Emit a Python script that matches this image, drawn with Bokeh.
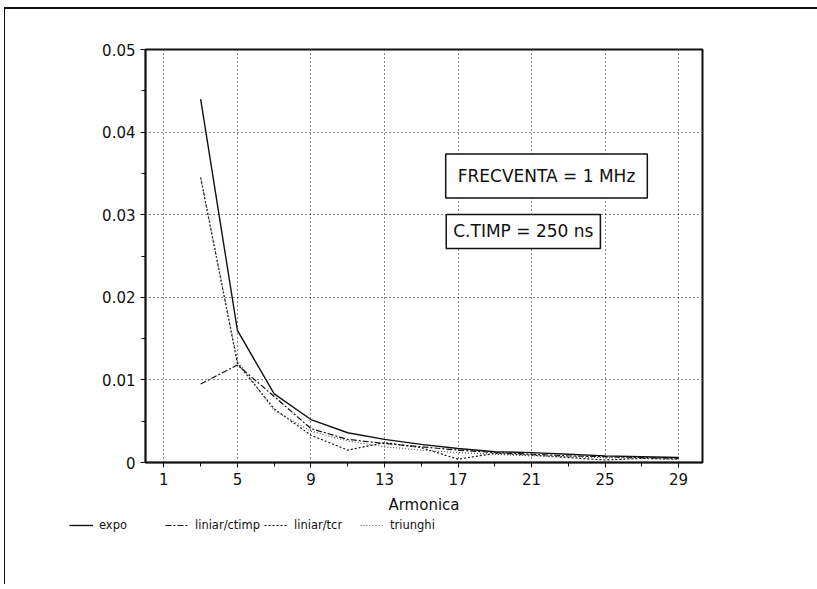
from bokeh.plotting import figure
from bokeh.layouts import column
from bokeh.models import Range1d, FixedTicker, Legend, LegendItem, Label
from bokeh.embed import file_html
from bokeh.resources import INLINE

# harmonics (odd)
armonica = [3, 5, 7, 9, 11, 13, 15, 17, 19, 21, 23, 25, 27, 29]
expo = [0.0440, 0.0160, 0.0083, 0.0052, 0.0036, 0.0028, 0.0022, 0.0017, 0.0013, 0.0012, 0.0010, 0.0008, 0.0007, 0.0006]
liniar_ctimp = [0.0095, 0.0118, 0.0080, 0.0041, 0.0028, 0.0023, 0.0019, 0.0015, 0.0012, 0.0010, 0.0008, 0.0007, 0.0006, 0.0005]
liniar_tcr = [0.0345, 0.0120, 0.0065, 0.0033, 0.0015, 0.0024, 0.0018, 0.0004, 0.0011, 0.0009, 0.0006, 0.0003, 0.0005, 0.0004]
triunghi = [0.0345, 0.0123, 0.0063, 0.0038, 0.0026, 0.0019, 0.0015, 0.0012, 0.0010, 0.0008, 0.0007, 0.0006, 0.0005, 0.0004]

series_names = ["expo", "liniar/ctimp", "liniar/tcr", "triunghi"]
series_values = [expo, liniar_ctimp, liniar_tcr, triunghi]

x_ticks = [1, 5, 9, 13, 17, 21, 25, 29]
x_minor = [3, 7, 11, 15, 19, 23, 27]
y_ticks = [0, 0.01, 0.02, 0.03, 0.04, 0.05]
y_labels = ["0", "0.01", "0.02", "0.03", "0.04", "0.05"]
y_minor = [0.005, 0.015, 0.025, 0.035, 0.045]

FONT = "DejaVu Sans"
styles = [dict(line_color="#111", line_width=1.4),
          dict(line_color="#111", line_width=1.2, line_dash="6 2 2 2"),
          dict(line_color="#111", line_width=1.2, line_dash="2 2"),
          dict(line_color="#555", line_width=1.2, line_dash="1 2")]

p = figure(width=812, height=508, x_range=Range1d(0, 30.3), y_range=Range1d(0, 0.05),
           output_backend="svg", toolbar_location=None,
           min_border_left=140, min_border_right=115, min_border_top=40, min_border_bottom=55)
p.frame_align = False

p.outline_line_color = "#111"
p.outline_line_width = 2

p.xaxis.ticker = FixedTicker(ticks=x_ticks, minor_ticks=x_minor)
p.yaxis.ticker = FixedTicker(ticks=y_ticks, minor_ticks=y_minor)
p.yaxis.major_label_overrides = dict(zip(y_ticks, y_labels))
p.xaxis.axis_label = "Armonica"

for ax in (p.xaxis, p.yaxis):
    ax.axis_line_color = "#111"
    ax.axis_line_width = 1.5
    ax.major_tick_line_color = "#111"
    ax.minor_tick_line_color = "#111"
    ax.major_tick_in = 0
    ax.major_tick_out = 5
    ax.minor_tick_in = 0
    ax.minor_tick_out = 4
    ax.major_label_text_font = FONT
    ax.major_label_text_font_size = "15px"
    ax.major_label_text_color = "#111"
    ax.major_label_standoff = 5
p.xaxis.axis_label_text_font = FONT
p.xaxis.axis_label_text_font_size = "15px"
p.xaxis.axis_label_text_font_style = "normal"
p.xaxis.axis_label_text_color = "#111"
p.xaxis.axis_label_standoff = 8

p.grid.grid_line_color = "#111"
p.grid.grid_line_dash = "1 3"
p.grid.grid_line_width = 1
p.xgrid.ticker = FixedTicker(ticks=x_ticks)
p.ygrid.ticker = FixedTicker(ticks=y_ticks)

for ys, st in zip(series_values, styles):
    p.line(armonica, ys, **st)

lab1 = Label(x=16.33, y=0.0347, text="FRECVENTA = 1 MHz", text_font=FONT, text_font_size="17px",
             text_color="#111", text_baseline="middle", text_align="left",
             border_line_color="#111", border_line_width=1.5, background_fill_color="white",
             padding=12)
lab2 = Label(x=16.36, y=0.02797, text="C.TIMP = 250 ns", text_font=FONT, text_font_size="17px",
             text_color="#111", text_baseline="middle", text_align="left",
             border_line_color="#111", border_line_width=1.5, background_fill_color="white",
             padding=7)
p.add_layout(lab1)
p.add_layout(lab2)

# legend strip below the chart; its lines lie outside its (empty) view range,
# so only the legend keys are seen
p2 = figure(width=812, height=67, output_backend="svg", toolbar_location=None,
            x_range=Range1d(-20, -10), y_range=Range1d(0, 1),
            x_axis_type=None, y_axis_type=None, min_border=0)
p2.frame_align = False
p2.outline_line_color = None
p2.grid.visible = False
items = []
for name, ys, st in zip(series_names, series_values, styles):
    r = p2.line(armonica, ys, **st)
    items.append(LegendItem(label=name, renderers=[r]))
legend = Legend(items=items, orientation="horizontal", location=(64, 51),
                glyph_width=24, glyph_height=16, label_standoff=6, label_width=62, spacing=4,
                padding=0, margin=0, border_line_color=None, background_fill_alpha=0,
                label_text_font=FONT, label_text_font_size="11.5px", label_text_color="#111")
p2.add_layout(legend)

layout = column(p, p2, spacing=0)
layout.styles = {"border-top": "2px solid #111", "border-left": "1px solid #111",
                 "margin-left": "4px", "margin-top": "7px"}

open("out.html", "w").write(file_html(layout, INLINE))
